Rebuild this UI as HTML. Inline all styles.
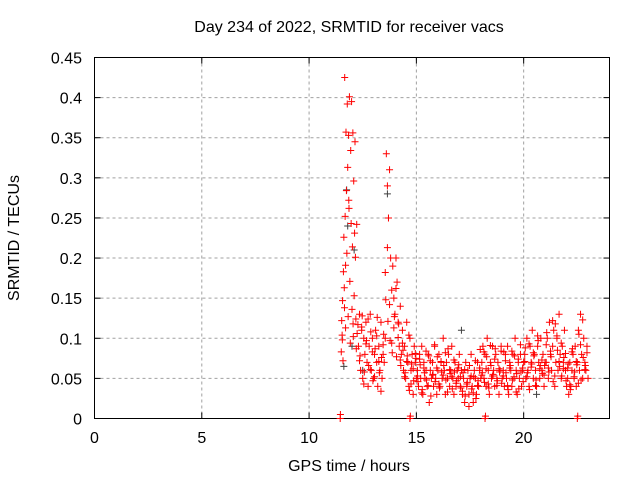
<!DOCTYPE html>
<html><head><meta charset="utf-8"><style>
body{margin:0;background:#fff;}
svg{display:block;font-family:"Liberation Sans",sans-serif;}
</style></head><body>
<svg id="chart" width="640" height="480" viewBox="0 0 640 480"></svg>
<script>
const xTicks = [0,5,10,15,20];
const yTicks = [0,0.05,0.1,0.15,0.2,0.25,0.3,0.35,0.4,0.45];
const yTickLabels = ["0","0.05","0.1","0.15","0.2","0.25","0.3","0.35","0.4","0.45"];
const peakTimes = [11.45,11.46,11.5,11.52,11.54,11.56,11.58,11.6,11.62,11.64,11.66,11.68,11.7,11.72,11.74,11.76,11.78,11.8,11.82,11.84,11.86,11.88,11.9,11.92,11.94,11.96,11.98,12.0,12.02,12.04,12.06,12.08,12.1,12.12,12.14,12.16,12.18,12.2,12.22,12.24,11.55,11.65,11.7,11.85,12.05,14.7,14.72,18.2,18.22,22.5,22.52];
const peakValues = [0,0.005,0.083,0.122,0.104,0.147,0.072,0.183,0.226,0.163,0.425,0.252,0.113,0.357,0.284,0.206,0.392,0.313,0.127,0.353,0.262,0.401,0.171,0.094,0.334,0.243,0.395,0.136,0.214,0.356,0.102,0.296,0.153,0.231,0.345,0.201,0.124,0.087,0.242,0.106,0.098,0.138,0.191,0.272,0.118,0,0.003,0,0.003,0,0.003];
const timesA = [12.30,12.35,12.40,12.45,12.50,12.55,12.60,12.65,12.70,12.75,12.80,12.85,12.90,12.95,13.00,13.05,13.10,13.15,13.20,13.25,13.30,13.35,13.40,13.45,13.50,
13.55,13.60,13.65,13.70,13.75,13.80,13.85,13.90,13.95,14.00,14.05,14.10,14.15,14.20,14.25,
14.30,14.35,14.40,14.45,14.50,14.55,14.60,14.65,14.70,14.75,14.80,14.85,14.90,14.95,15.00,
15.05,15.10,15.15,15.20,15.25,15.30,15.35,15.40,15.45,15.50,15.55,15.60,15.65,15.70,15.75,15.80,15.85,15.90,15.95,16.00,16.05,16.10,16.15,16.20,16.25,16.30,16.35,16.40,16.45,16.50,16.55,16.60,16.65,16.70,16.75,16.80,16.85,16.90,16.95,17.00,
17.05,17.10,17.15,17.20,17.25,17.30,17.35,17.40,17.45,17.50,17.55,17.60,17.65,17.70,17.75,17.80,17.85,17.90,17.95,18.00,
18.05,18.10,18.15,18.20,18.25,18.30,18.35,18.40,18.45,18.50,18.55,18.60,18.65,18.70,18.75,18.80,18.85,18.90,18.95,19.00,
19.05,19.10,19.15,19.20,19.25,19.30,19.35,19.40,19.45,19.50,19.55,19.60,19.65,19.70,19.75,19.80,19.85,19.90,19.95,20.00,
20.05,20.10,20.15,20.20,20.25,20.30,20.35,20.40,20.45,20.50,20.55,20.60,20.65,20.70,20.75,20.80,20.85,20.90,20.95,21.00,
21.05,21.10,21.15,21.20,21.25,21.30,21.35,21.40,21.45,21.50,21.55,21.60,21.65,21.70,21.75,21.80,21.85,21.90,21.95,22.00,
22.05,22.10,22.15,22.20,22.25,22.30,22.35,22.40,22.45,22.50,22.55,22.60,22.65,22.70,22.75,22.80,22.85,22.90,22.95,23.00];
const valuesA = [.09,.13,.06,.11,.05,.10,.08,.12,.07,.04,.09,.13,.06,.10,.05,.08,.11,.07,.04,.09,.06,.12,.05,.08,.07,
.10,.33,.29,.25,.31,.20,.16,.19,.15,.13,.20,.17,.12,.09,.14,
.08,.11,.06,.09,.05,.12,.07,.04,.10,.06,.08,.03,.09,.07,.05,
.06,.04,.08,.05,.09,.03,.07,.05,.06,.04,.08,.02,.06,.05,.07,.04,.09,.05,.03,.06,.08,.04,.07,.05,.10,.06,.03,.07,.05,.08,.04,.06,.09,.05,.03,.07,.04,.06,.05,.08,
.04,.06,.03,.05,.02,.07,.04,.06,.03,.05,.08,.04,.02,.06,.05,.03,.07,.04,.06,.05,
.07,.09,.05,.08,.04,.10,.06,.03,.07,.05,.09,.06,.04,.08,.05,.07,.03,.06,.09,.05,
.06,.04,.08,.05,.09,.03,.07,.06,.04,.08,.05,.10,.06,.03,.07,.05,.08,.04,.06,.07,
.08,.05,.10,.06,.04,.09,.07,.11,.05,.08,.06,.04,.09,.07,.05,.10,.06,.08,.04,.07,
.07,.10,.05,.12,.08,.06,.09,.11,.04,.07,.10,.06,.13,.08,.05,.09,.07,.11,.06,.04,
.05,.03,.07,.04,.06,.08,.05,.09,.04,.07,.11,.06,.13,.08,.05,.10,.07,.06,.09,.05];
const timesB = [12.35,12.45,12.55,12.65,12.75,12.85,12.95,13.05,13.15,13.25,13.35,13.45,13.55,13.65,13.75,13.85,13.95,14.05,14.15,14.25,14.35,14.45,14.55,14.65,14.75,14.85,14.95,
15.05,15.15,15.25,15.35,15.45,15.55,15.65,15.75,15.85,15.95,16.05,16.15,16.25,16.35,16.45,16.55,16.65,16.75,16.85,16.95,
17.05,17.15,17.25,17.35,17.45,17.55,17.65,17.75,17.85,17.95,18.05,18.15,18.25,18.35,18.45,18.55,18.65,18.75,18.85,18.95,
19.05,19.15,19.25,19.35,19.45,19.55,19.65,19.75,19.85,19.95,20.05,20.15,20.25,20.35,20.45,20.55,20.65,20.75,20.85,20.95,
21.05,21.15,21.25,21.35,21.45,21.55,21.65,21.75,21.85,21.95,22.05,22.15,22.25,22.35,22.45,22.55,22.65,22.75,22.85,22.95];
const valuesB = [.072,.114,.043,.093,.124,.061,.083,.052,.103,.071,.034,.092,.182,.213,.142,.094,.113,.162,.101,.073,.094,.052,.071,.104,.043,.062,.081,
.053,.074,.032,.063,.084,.041,.072,.054,.092,.063,.043,.071,.054,.082,.033,.061,.052,.073,.044,.063,
.052,.034,.061,.043,.015,.053,.032,.072,.041,.063,.054,.083,.062,.043,.091,.053,.074,.041,.062,.084,
.053,.072,.041,.063,.084,.052,.033,.074,.092,.063,.071,.052,.093,.064,.082,.041,.103,.062,.073,.054,
.092,.063,.084,.122,.053,.103,.071,.094,.062,.081,.063,.042,.083,.052,.071,.044,.092,.123,.061,.082];
const timesC = [12.275,12.375,12.475,12.575,12.675,12.775,12.875,12.975,13.075,13.175,13.275,13.375,13.475,13.575,13.675,13.775,13.875,13.975,14.075,14.175,14.275,14.375,14.475,14.575,14.675,14.775,14.875,14.975,
15.075,15.175,15.275,15.375,15.475,15.575,15.675,15.775,15.875,15.975,16.075,16.175,16.275,16.375,16.475,16.575,16.675,16.775,16.875,16.975,
17.075,17.175,17.275,17.375,17.475,17.575,17.675,17.775,17.875,17.975,18.075,18.175,18.275,18.375,18.475,18.575,18.675,18.775,18.875,18.975,
19.075,19.175,19.275,19.375,19.475,19.575,19.675,19.775,19.875,19.975,20.075,20.175,20.275,20.375,20.475,20.575,20.675,20.775,20.875,20.975,
21.075,21.175,21.275,21.375,21.475,21.575,21.675,21.775,21.875,21.975,22.075,22.175,22.275,22.375,22.475,22.575,22.675,22.775,22.875,22.975];
const valuesC = [.117,.078,.128,.058,.097,.066,.108,.047,.087,.126,.057,.076,.105,.148,.121,.097,.082,.127,.077,.118,.066,.085,.057,.078,.035,.068,.047,.075,
.046,.067,.036,.057,.048,.078,.028,.055,.046,.077,.038,.058,.066,.048,.087,.056,.037,.058,.047,
.067,.038,.057,.028,.045,.066,.037,.052,.025,.047,.086,.057,.045,.077,.038,.066,.055,.087,.047,.058,
.044,.083,.057,.036,.066,.048,.078,.056,.037,.058,.046,.088,.057,.036,.068,.078,.048,.097,.066,.056,
.066,.107,.058,.077,.046,.118,.085,.065,.053,.076,.047,.068,.036,.087,.058,.067,.105,.048,.076,.066];
const blackTimes = [11.62,11.75,11.8,12.0,12.1,13.65,13.7,17.1,20.6,12.5];
const blackValues = [0.065,0.285,0.24,0.09,0.21,0.28,0.25,0.11,0.03,0.06];

const svg = document.getElementById('chart');
const NS = 'http://www.w3.org/2000/svg';
const L=94.5, R=609.5, T=57.5, B=418.5;
const xs = t => L + (t/24)*(R-L);
const ys = v => B - (v/0.45)*(B-T);
function mk(tag, attrs, parent){const e=document.createElementNS(NS,tag);for(const k in attrs)e.setAttribute(k,attrs[k]);(parent||svg).appendChild(e);return e;}

const grid = mk('g',{});


xTicks.forEach(t=>{ if(t>0) mk('line',{x1:xs(t),x2:xs(t),y1:T,y2:B,stroke:'#a0a0a0','stroke-dasharray':'3,3'},grid); });
yTicks.forEach(v=>{ if(v>0&&v<0.45) mk('line',{x1:L,x2:R,y1:ys(v),y2:ys(v),stroke:'#a0a0a0','stroke-dasharray':'3,3'},grid); });

const ax = mk('g',{});


mk('rect',{x:L,y:T,width:R-L,height:B-T,fill:'none',stroke:'#000'},ax);
xTicks.forEach(t=>{
  mk('line',{x1:xs(t),x2:xs(t),y1:B,y2:B-6,stroke:'#000'},ax);
  mk('line',{x1:xs(t),x2:xs(t),y1:T,y2:T+6,stroke:'#000'},ax);
  const tx=mk('text',{x:xs(t),y:443,'text-anchor':'middle','font-size':16},ax); tx.textContent=t;
  
  
});
yTicks.forEach((v,i)=>{
  mk('line',{x1:L,x2:L+6,y1:ys(v),y2:ys(v),stroke:'#000'},ax);
  mk('line',{x1:R,x2:R-6,y1:ys(v),y2:ys(v),stroke:'#000'},ax);
  const tx=mk('text',{x:82,y:ys(v)+6,'text-anchor':'end','font-size':16},ax); tx.textContent=yTickLabels[i];
  
  
});

function cross(t,v,col,g){
  const x=xs(t), y=ys(v);
  mk('path',{d:`M${x-3.5},${y}H${x+3.5}M${x},${y-3.5}V${y+3.5}`,stroke:col,'stroke-width':1,fill:'none'},g);
}
const gb = mk('g',{});


blackTimes.forEach((t,i)=>cross(t,blackValues[i],'#404040',gb));
const gr = mk('g',{});


peakTimes.forEach((t,i)=>cross(t,peakValues[i],'#ff0000',gr));
timesA.forEach((t,i)=>cross(t,valuesA[i],'#ff0000',gr));
timesB.forEach((t,i)=>cross(t,valuesB[i],'#ff0000',gr));
timesC.forEach((t,i)=>cross(t,valuesC[i],'#ff0000',gr));

const title=mk('text',{x:349,y:32,'text-anchor':'middle','font-size':16});
title.textContent='Day 234 of 2022, SRMTID for receiver vacs';


const xl=mk('text',{x:349,y:471,'text-anchor':'middle','font-size':16});
xl.textContent='GPS time / hours';


const yl=mk('text',{x:0,y:0,'text-anchor':'middle','font-size':16,transform:'translate(19,238) rotate(-90)'});
yl.textContent='SRMTID / TECUs';


</script>
</body></html>
